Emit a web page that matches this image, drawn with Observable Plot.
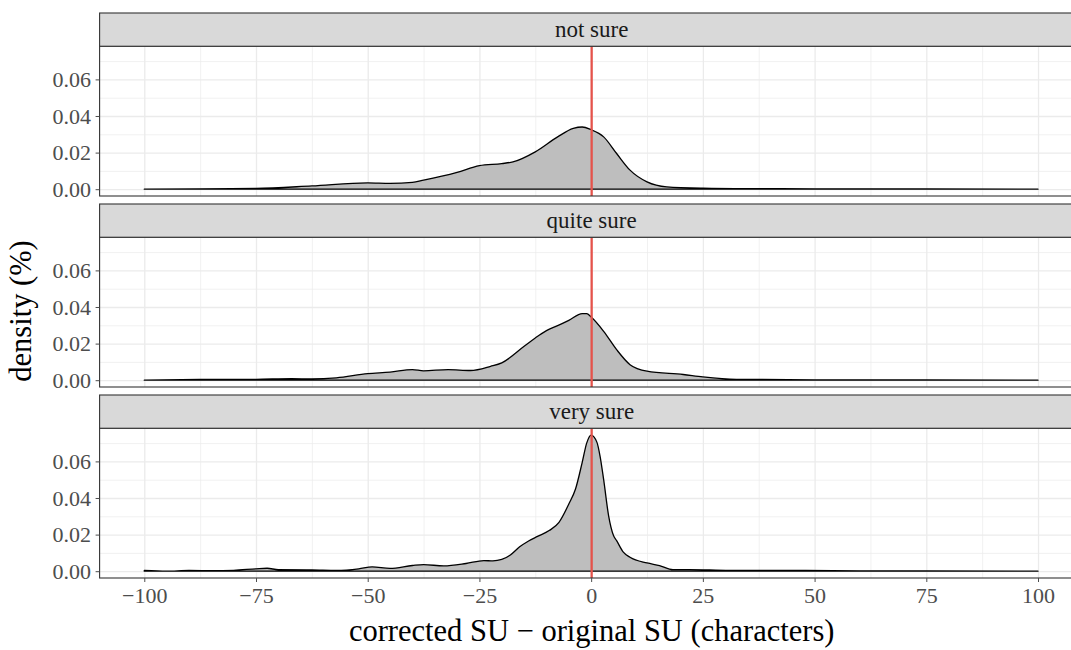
<!DOCTYPE html>
<html><head><meta charset="utf-8">
<script src="https://cdn.jsdelivr.net/npm/d3@7"></script>
<script src="https://cdn.jsdelivr.net/npm/@observablehq/plot@0.6"></script>
<style>
html,body{margin:0;padding:0;overflow:hidden;background:#fff;width:1071px;height:650px}
#chart svg{max-width:none !important;display:block}
</style></head><body><div id="chart"></div>
<script>
const groups = ["not sure", "quite sure", "very sure"];

const notSureX = [-100, -87.5, -75, -62.5, -50, -45, -40, -37.5, -30, -25, -20, -17.5, -12.5, -7.5, -4, -2, 0, 2.8, 5.7, 8.7, 12.5, 16.9, 25, 37.5, 50, 75, 100];
const notSureY = [0, 0.0002, 0.0004, 0.0018, 0.0035, 0.0032, 0.0037, 0.0049, 0.0092, 0.0129, 0.014, 0.0149, 0.0204, 0.0286, 0.0332, 0.034, 0.0325, 0.0286, 0.0195, 0.0104, 0.004, 0.0013, 0.0006, 0.0003, 0.0002, 0.0001, 0];

const quiteSureX = [-100, -87.5, -75, -67, -62.5, -57, -50, -45, -40, -37.5, -32, -27, -22.5, -20, -15, -12.5, -10, -7.5, -5, -2, -1, 0, 2.8, 5.7, 8.7, 12.5, 20.6, 25, 32.5, 50, 75, 100];
const quiteSureY = [0, 0.0004, 0.0005, 0.0008, 0.0007, 0.0013, 0.0036, 0.0044, 0.0058, 0.0051, 0.0058, 0.0053, 0.0076, 0.0095, 0.0185, 0.0231, 0.0271, 0.0298, 0.0327, 0.0364, 0.0364, 0.0345, 0.0267, 0.0167, 0.0085, 0.0049, 0.0031, 0.0018, 0.0005, 0.0002, 0.0001, 0];

const verySureX = [-100, -95, -90, -85, -80, -75, -72.5, -70, -62.5, -57, -52, -49, -45, -40, -37.5, -33, -28, -24, -22, -20, -18, -16, -14, -12, -9.4, -7.2, -5, -3.5, -2, -1, 0, 1.3, 2, 2.8, 3.9, 5, 5.7, 7.2, 8.7, 12.5, 15.3, 18.3, 22, 31, 37, 48, 60, 75, 100];
const verySureY = [0.0004, 0, 0.0004, 0.0003, 0.0005, 0.0013, 0.0016, 0.0008, 0.0007, 0.0004, 0.0013, 0.0024, 0.0015, 0.0031, 0.0036, 0.0029, 0.0042, 0.0058, 0.0056, 0.0064, 0.009, 0.0133, 0.0165, 0.019, 0.0222, 0.0267, 0.0367, 0.0449, 0.0595, 0.070, 0.0744, 0.0704, 0.0628, 0.05, 0.0304, 0.0195, 0.0167, 0.0104, 0.0076, 0.0045, 0.0031, 0.0009, 0.0009, 0.0004, 0.0005, 0.0004, 0.0002, 0.0001, 0];

const xTicks = [-100, -75, -50, -25, 0, 25, 50, 75, 100];
const xMinor = [-87.5, -62.5, -37.5, -12.5, 12.5, 37.5, 62.5, 87.5];
const yTicks = [0, 0.02, 0.04, 0.06];
const yMinor = [0.01, 0.03, 0.05, 0.07];
const refLine = [0];
const xLabel = "corrected SU \u2212 original SU (characters)";
const yLabel = "density (%)";

const series = [[notSureX, notSureY], [quiteSureX, quiteSureY], [verySureX, verySureY]];
const rows = [];
series.forEach(([xs, ys], i) => xs.forEach((x, j) => rows.push({group: groups[i], x, y: ys[j]})));

// layout
const W = 1083, H = 650, mL = 99.6, mR = 0.3, mT = 12;
const panelH = 150, stripH = 33.3, gap = 8.3;
const band = panelH + stripH;
const mB = H - mT - (3 * band + 2 * gap);
const pI = gap / (band + gap);
const xLo = -110, xHi = 110;
const yLo = -0.00372, yHi = 0.07812;
const yStrip = yHi + (yHi - yLo) * stripH / panelH;
const font = "Liberation Serif, Times New Roman, serif";

const chart = Plot.plot({
  width: W, height: H,
  marginLeft: mL, marginRight: mR, marginTop: mT, marginBottom: mB,
  style: {fontFamily: font, background: "white", maxWidth: "none"},
  x: {domain: [xLo, xHi]},
  y: {domain: [yLo, yStrip]},
  fy: {domain: groups, paddingInner: pI, paddingOuter: 0, axis: null},
  marks: [
    Plot.ruleX(xMinor, {x: d => d, y1: yLo, y2: yHi, stroke: "#EBEBEB", strokeWidth: 0.7}),
    Plot.ruleY(yMinor, {y: d => d, x1: xLo, x2: xHi, stroke: "#EBEBEB", strokeWidth: 0.7}),
    Plot.ruleX(xTicks, {x: d => d, y1: yLo, y2: yHi, stroke: "#EBEBEB", strokeWidth: 1.3}),
    Plot.ruleY(yTicks, {y: d => d, x1: xLo, x2: xHi, stroke: "#EBEBEB", strokeWidth: 1.3}),
    Plot.areaY(rows, {x: "x", y: "y", fy: "group", fill: "#BEBEBE", stroke: "black", strokeWidth: 1.3, curve: "monotone-x"}),
    Plot.ruleX(refLine, {x: d => d, y1: yLo, y2: yHi, stroke: "#E5534B", strokeWidth: 2.3}),
    Plot.rect(groups, {fy: d => d, x1: xLo, x2: xHi, y1: yLo, y2: yHi, fill: "none", stroke: "#333333", strokeWidth: 1.1}),
    Plot.rect(groups, {fy: d => d, x1: xLo, x2: xHi, y1: yHi, y2: yStrip, fill: "#D9D9D9", stroke: "#333333", strokeWidth: 1.1}),
    Plot.text(groups, {fy: d => d, x: 0, y: (yHi + yStrip) / 2, text: d => d, fontSize: 23, fill: "#1A1A1A"}),
    Plot.axisY({ticks: yTicks, tickFormat: d3.format(".2f"), tickSize: 4, tickPadding: 5, fontSize: 22, color: "#4D4D4D", label: null}),
    Plot.axisX({ticks: xTicks, tickFormat: d3.format("d"), tickSize: 4, tickPadding: 4.5, fontSize: 22, color: "#4D4D4D", label: null}),
    Plot.text([yLabel], {fy: () => "quite sure", frameAnchor: "left", textAnchor: "middle", lineAnchor: "middle", dx: -78.9, dy: 15, rotate: -90, text: d => d, fontSize: 30.5, fill: "black"}),
    Plot.text([xLabel], {fy: () => "very sure", frameAnchor: "bottom", textAnchor: "middle", lineAnchor: "middle", dy: 53.2, text: d => d, fontSize: 30.5, fill: "black"})
  ]
});
document.getElementById("chart").appendChild(chart);
</script></body></html>
